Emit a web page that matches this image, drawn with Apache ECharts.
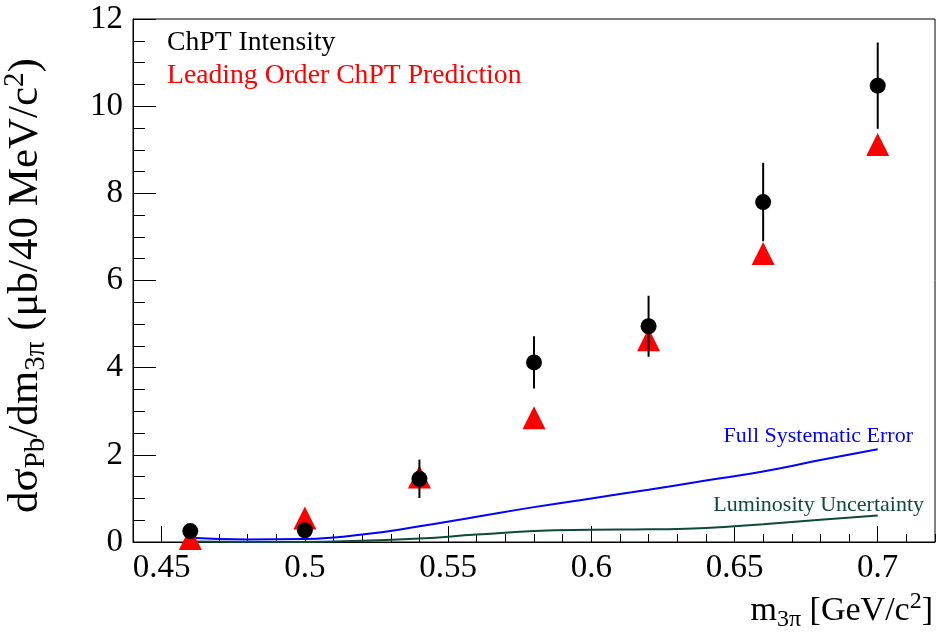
<!DOCTYPE html>
<html><head><meta charset="utf-8">
<script src="https://cdn.jsdelivr.net/npm/echarts@6/dist/echarts.min.js"></script>
<style>html,body{margin:0;padding:0;background:#fff}#c{width:936px;height:632px}</style>
</head><body><div id="c"></div>
<script>
// ---- data ----
const massBins = [0.46, 0.50, 0.54, 0.58, 0.62, 0.66, 0.70];
const intensity = [0.25, 0.27, 1.45, 4.12, 4.95, 7.80, 10.47];
const intensityErr = [0.10, 0.10, 0.44, 0.60, 0.70, 0.90, 0.99];
const prediction = [0.08, 0.55, 1.49, 2.85, 4.64, 6.62, 9.12];
const curveX = [0.46, 0.48, 0.50, 0.52, 0.54, 0.56, 0.58, 0.60, 0.62, 0.64, 0.66, 0.68, 0.70];
const systErr = [0.10, 0.06, 0.07, 0.17, 0.36, 0.58, 0.80, 1.00, 1.20, 1.41, 1.62, 1.88, 2.13];
const lumiErr = [0.01, 0.00, 0.00, 0.03, 0.08, 0.17, 0.25, 0.28, 0.29, 0.32, 0.41, 0.51, 0.61];
const xTickLabels = [0.45, 0.50, 0.55, 0.60, 0.65, 0.70];
const yTickLabels = [0, 2, 4, 6, 8, 10, 12];

const FONT = 'Liberation Serif';
const GREEN = '#10483c';

const chart = echarts.init(document.getElementById('c'), null, {renderer: 'canvas'});

const pts = (xs, ys) => xs.map((x, i) => [x, ys[i]]);

const option = {
  animation: false,
  backgroundColor: '#fff',
  grid: {left: 133, right: 1, top: 19, bottom: 90, show: true, borderColor: '#000', borderWidth: 1,
    backgroundColor: 'transparent', containLabel: false, outerBoundsMode: 'none'},
  legend: {
    orient: 'vertical', left: 162, top: 29, padding: 0, itemGap: 5,
    icon: 'none', itemWidth: 0, itemHeight: 0, selectedMode: false,
    textStyle: {fontFamily: FONT, fontSize: 27.7},
    data: [
      {name: 'ChPT Intensity', textStyle: {color: '#000'}},
      {name: 'Leading Order ChPT Prediction', textStyle: {color: '#ff0000'}}
    ]
  },
  xAxis: [{
    type: 'value', min: 0.44, max: 0.72,
    axisLine: {show: true, lineStyle: {color: '#000', width: 1}},
    axisTick: {show: true, inside: true, length: 16, lineStyle: {color: '#000', width: 1}, customValues: xTickLabels},
    axisLabel: {show: true, customValues: xTickLabels, margin: 10, color: '#000', fontFamily: FONT, fontSize: 33,
      formatter: v => String(+v.toFixed(2))},
    splitLine: {show: false},
    name: '{a|m}{s|3π}{a| [GeV/c}{p|2}{a|]}',
    nameLocation: 'end', nameGap: -2,
    nameTextStyle: {align: 'right', verticalAlign: 'top', padding: [48, 0, 0, 0],
      rich: {
        a: {fontFamily: FONT, fontSize: 34, color: '#000', lineHeight: 42, verticalAlign: 'middle'},
        s: {fontFamily: FONT, fontSize: 24, color: '#000', lineHeight: 42, verticalAlign: 'bottom'},
        p: {fontFamily: FONT, fontSize: 24, color: '#000', lineHeight: 42, verticalAlign: 'top'}
      }}
  }, {
    type: 'value', min: 0.44, max: 0.72, interval: 0.01, position: 'bottom',
    axisLine: {show: false},
    axisTick: {show: true, inside: true, length: 8, lineStyle: {color: '#000', width: 1}},
    axisLabel: {show: false}, splitLine: {show: false}
  }],
  yAxis: {
    type: 'value', min: 0, max: 12, interval: 2,
    axisLine: {show: true, lineStyle: {color: '#000', width: 1}},
    axisTick: {show: true, inside: true, length: 23, lineStyle: {color: '#000', width: 1}},
    minorTick: {show: true, splitNumber: 4, length: 12, lineStyle: {color: '#000', width: 1}},
    axisLabel: {margin: 10, color: '#000', fontFamily: FONT, fontSize: 33,
      formatter: v => yTickLabels.includes(v) ? String(v) : ''},
    splitLine: {show: false},
    name: '{a|dσ}{s|Pb}{a|/dm}{s|3π}{a| (μb/40 MeV/c}{p|2}{a|)}',
    nameLocation: 'middle', nameGap: 82,
    nameTextStyle: {padding: [0, 10, 0, 0],
      rich: {
        a: {fontFamily: FONT, fontSize: 43, color: '#000', lineHeight: 50, verticalAlign: 'middle'},
        s: {fontFamily: FONT, fontSize: 29, color: '#000', lineHeight: 50, verticalAlign: 'bottom'},
        p: {fontFamily: FONT, fontSize: 29, color: '#000', lineHeight: 50, verticalAlign: 'top'}
      }}
  },
  graphic: [
    {type: 'text', x: 913, y: 436, style: {text: 'Full Systematic Error', fill: '#0000ff', fontFamily: FONT, fontSize: 22, align: 'right', verticalAlign: 'middle'}},
    {type: 'text', x: 924, y: 505, style: {text: 'Luminosity Uncertainty', fill: GREEN, fontFamily: FONT, fontSize: 22, align: 'right', verticalAlign: 'middle'}}
  ],
  series: [
    {name: 'Full Systematic Error', type: 'line', data: pts(curveX, systErr), smooth: 0.5,
      showSymbol: false, symbol: 'none', lineStyle: {color: '#0000ff', width: 2}, itemStyle: {color: '#0000ff'}, clip: false, z: 2},
    {name: 'Luminosity Uncertainty', type: 'line', data: pts(curveX, lumiErr), smooth: 0.5,
      showSymbol: false, symbol: 'none', lineStyle: {color: GREEN, width: 2}, itemStyle: {color: GREEN}, clip: false, z: 2},
    {name: 'Leading Order ChPT Prediction', type: 'scatter', data: pts(massBins, prediction),
      symbol: 'triangle', symbolSize: [23, 23], itemStyle: {color: '#ff0000', opacity: 1}, clip: false, z: 3},
    {name: 'errors', type: 'custom', z: 4, clip: false,
      data: massBins.map((x, i) => [x, intensity[i] - intensityErr[i], intensity[i] + intensityErr[i]]),
      renderItem: (params, api) => {
        const lo = api.coord([api.value(0), api.value(1)]);
        const hi = api.coord([api.value(0), api.value(2)]);
        return {type: 'line', shape: {x1: lo[0], y1: lo[1], x2: hi[0], y2: hi[1]}, style: {stroke: '#000', lineWidth: 2}};
      }},
    {name: 'ChPT Intensity', type: 'scatter', data: pts(massBins, intensity),
      symbol: 'circle', symbolSize: 16, itemStyle: {color: '#000', opacity: 1}, clip: false, z: 5}
  ]
};
chart.setOption(option);
</script>
</body></html>
